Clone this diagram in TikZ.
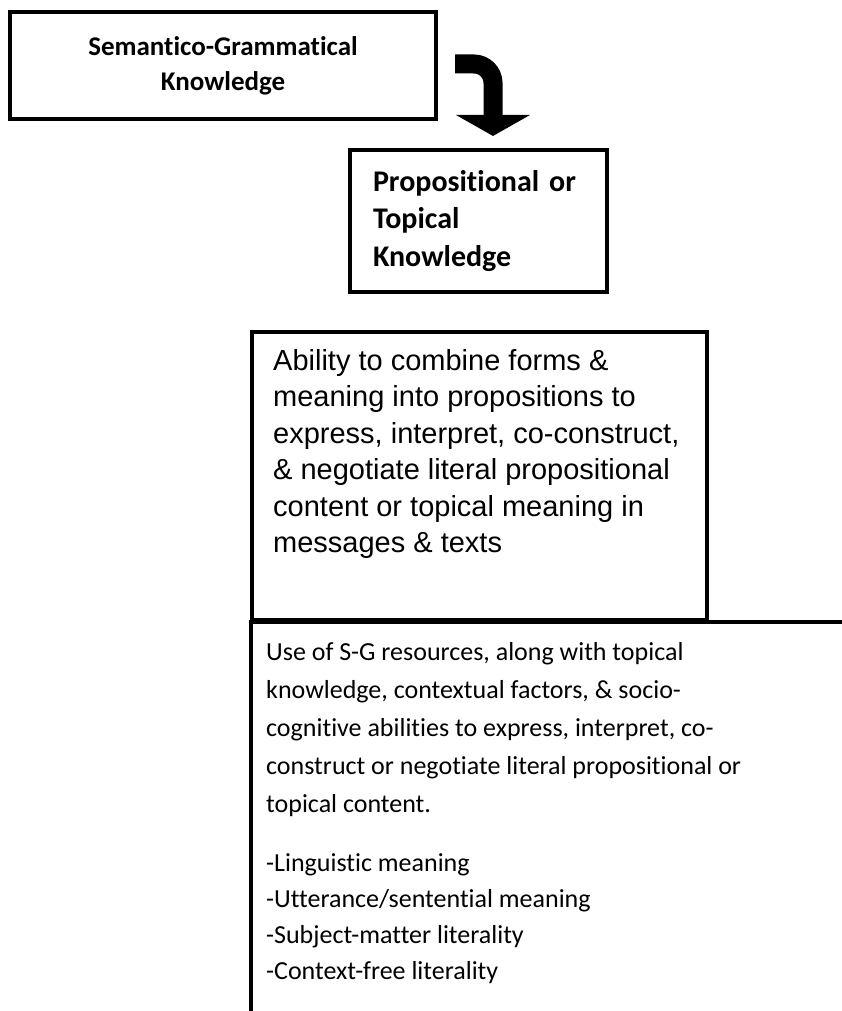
\documentclass[tikz,border=0pt]{standalone}
\usepackage{fontspec}
\setmainfont{Carlito}[Ligatures=CommonOff]
\newfontfamily\arialfont{Liberation Sans}
\usetikzlibrary{arrows.meta}

\begin{document}
\begin{tikzpicture}[x=1pt,y=-1pt,
    box/.style={draw, line width=3.5pt, inner sep=0pt},
    boxtext/.style={anchor=base west, inner sep=0pt, align=left},
    bentarrow/.style={line width=19pt, rounded corners=19pt,
      -{Triangle[width=73pt,length=21pt]}}]
  \useasboundingbox (0,0) rectangle (842,1011);
  \clip (0,0) rectangle (842,1011);
  % Top boxes
  \node[box, minimum width=426pt, minimum height=107pt, align=center,
    font=\fontsize{27}{35}\selectfont\bfseries] (semgram) at (223,65.5)
    {Semantico-Grammatical\\Knowledge};
  \node[box, minimum width=257pt, minimum height=142pt, text width=211pt,
    align=left, font=\fontsize{30}{37.5}\selectfont\bfseries] (proptop) at (478.5,221)
    {Propositional or\\Topical\\Knowledge};
  % Bent arrow
  \coordinate (bendtail) at (455,64);
  \coordinate (bendtip) at (493,136);
  \draw[bentarrow] (bendtail) -| (bendtip);
  % Description boxes (text placed by its last line)
  \node[box, minimum width=455pt, minimum height=288pt] (ability) at (479.5,476) {};
  \node[boxtext, font=\arialfont\fontsize{29}{36.5}\selectfont] (abilitytext) at (273,552.5)
    {Ability to combine forms \&\\meaning into propositions to\\express, interpret, co-construct,\\\& negotiate literal propositional\\content or topical meaning in\\messages \& texts};
  \node[box, line width=4pt, anchor=north west, minimum width=700pt,
    minimum height=500pt] (sgres) at (249,620) {};
  \node[boxtext, font=\fontsize{26}{38}\selectfont] (sgrestext) at (266,979)
    {Use of S-G resources, along with topical\\knowledge, contextual factors, \& socio-\\cognitive abilities to express, interpret, co-\\construct or negotiate literal propositional or\\topical content.\\[21pt]-Linguistic meaning\\[-2pt]-Utterance/sentential meaning\\[-2pt]-Subject-matter literality\\[-2pt]-Context-free literality};
\end{tikzpicture}
\end{document}
